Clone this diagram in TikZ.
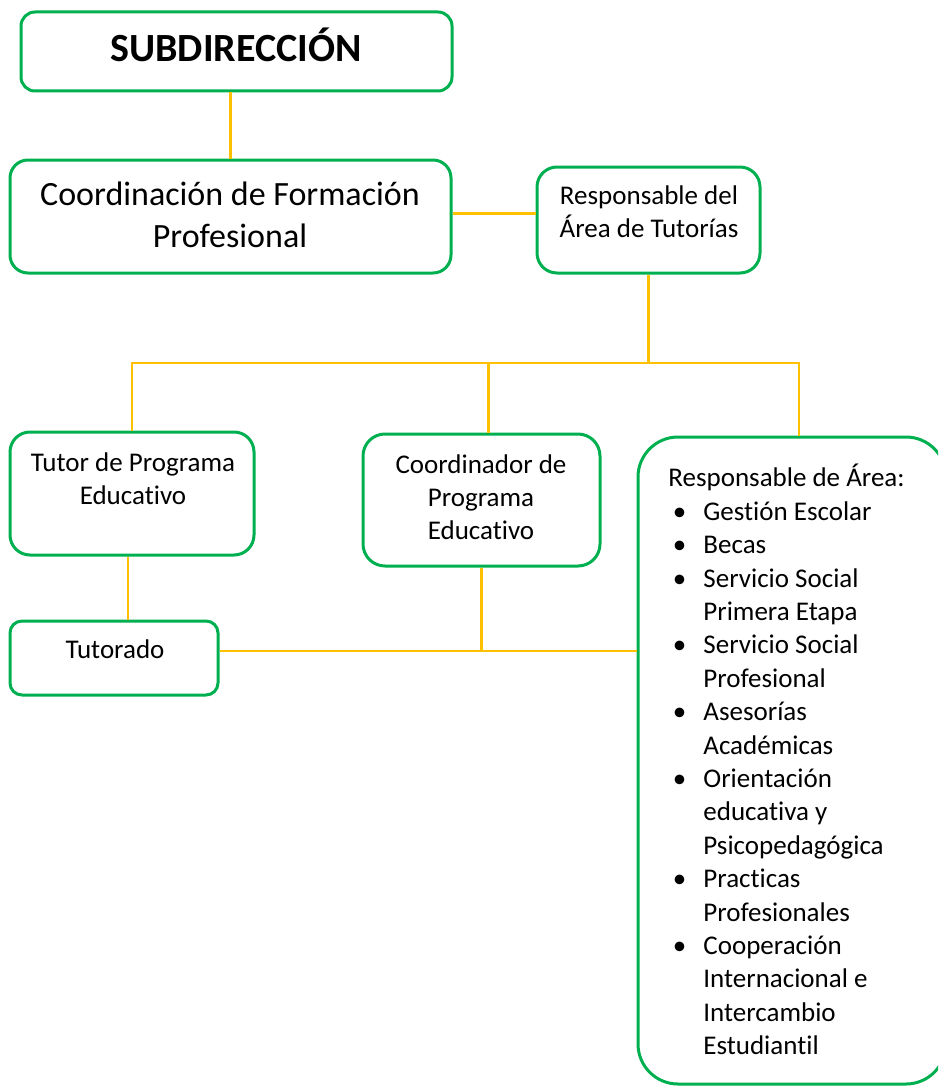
\documentclass[tikz,border=0pt]{standalone}
\usepackage{fontspec}
\setmainfont{Carlito}[Ligatures={NoCommon}]
\usetikzlibrary{positioning}

\definecolor{verde}{RGB}{0,176,80}
\definecolor{amarillo}{RGB}{255,192,0}

\begin{document}
\begin{tikzpicture}[x=0.5pt, y=-0.5pt,
	caja/.style={draw=verde, line width=1.5pt, fill=white, inner sep=0pt},
	linea/.style={draw=amarillo, line width=1.4pt},
	texto/.style={font=\fontsize{13.5}{16.5}\selectfont, align=center, inner sep=0pt}]

	\useasboundingbox (0,0) rectangle (938,1086);
	\clip (0,0) rectangle (938,1086);

	\coordinate (bus) at (652,363);

	\node [caja, rounded corners=7pt, minimum width=215.5pt, minimum height=39.5pt]
	(sub) at (236.5,51.5) {};
	\node [caja, rounded corners=9pt, minimum width=220.5pt, minimum height=56.5pt]
	(coord) at (230.5,216.5) {};
	\node [caja, rounded corners=10pt, minimum width=111.5pt, minimum height=53pt]
	(resp) at (648.5,220) {};
	\node [caja, rounded corners=10pt, minimum width=122pt, minimum height=61.5pt]
	(tutor) at (132,493.5) {};
	\node [caja, rounded corners=11pt, minimum width=118.5pt, minimum height=66pt]
	(coordpe) at (481.5,500) {};
	\node [caja, rounded corners=6pt, minimum width=104pt, minimum height=37pt]
	(tutorado) at (114,658) {};
	\node [caja, rounded corners=20pt, minimum width=154pt, minimum height=323.5pt]
	(areas) at (792,760.5) {};

	\node [texto, font=\bfseries\fontsize{20}{24}\selectfont] (tsub) at (236,45) {SUBDIRECCIÓN};
	\node [texto, font=\fontsize{17}{21}\selectfont] (tcoord) at (230,215)
	{Coordinación de Formación\\Profesional};
	\node [texto] (tresp) at (649,212) {Responsable del\\Área de Tutorías};
	\node [texto] (ttutor) at (133,479) {Tutor de Programa\\Educativo};
	\node [texto] (tcoordpe) at (481,497) {Coordinador de\\Programa\\Educativo};
	\node [texto] (ttutorado) at (115,649) {Tutorado};

	\node [texto, font=\fontsize{13.5}{16.7}\selectfont, anchor=north west, text width=132pt,
		align=flush left] (lista) at (668,464) {%
		Responsable de Área:
		\begin{list}{\textbullet}{\setlength\leftmargin{17.5pt}\setlength\labelwidth{9pt}%
			\setlength\labelsep{8.5pt}\setlength\itemsep{0pt}\setlength\parsep{0pt}%
			\setlength\topsep{0pt}\setlength\partopsep{0pt}}
			\item Gestión Escolar
			\item Becas
			\item Servicio Social\\Primera Etapa
			\item Servicio Social\\Profesional
			\item Asesorías\\Académicas
			\item Orientación\\educativa y\\Psicopedagógica
			\item Practicas\\Profesionales
			\item Cooperación\\Internacional e\\Intercambio\\Estudiantil
		\end{list}};

	\coordinate (enlace) at ([yshift=3.5pt]tutorado.east);

	\draw[linea] (sub.south -| coord.north) -- (coord.north);
	\draw[linea] ([yshift=1.5pt]coord.east) -- ([yshift=1.5pt]coord.east -| resp.west);
	\draw[linea] (resp.south) -- (resp.south |- bus);
	\draw[linea] (tutor.north) |- ([xshift=3.5pt]areas.north |- bus) -- ([xshift=3.5pt]areas.north);
	\draw[linea] ([xshift=3.5pt]coordpe.north) -- ([xshift=3.5pt]coordpe.north |- bus);

	\draw[linea] ([xshift=-2pt]tutor.south) -- ([xshift=-2pt]tutor.south |- tutorado.north);
	\draw[linea] (enlace) -- (enlace -| areas.west);
	\draw[linea] (coordpe.south) -- (coordpe.south |- enlace);
\end{tikzpicture}
\end{document}
